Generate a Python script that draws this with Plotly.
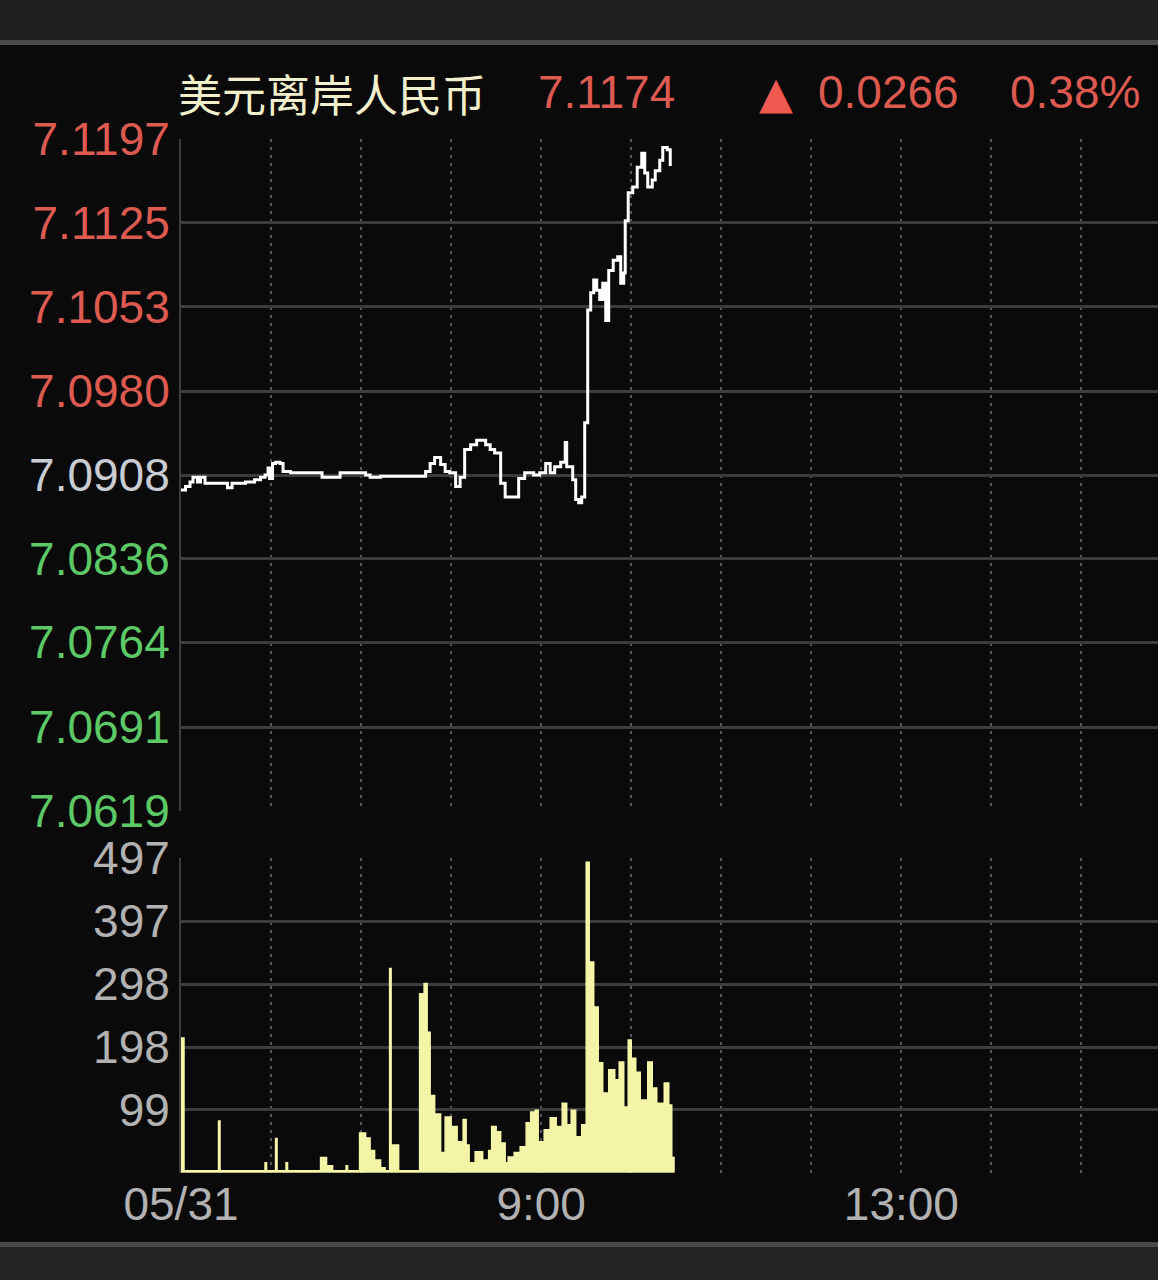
import plotly.graph_objects as go

# ---------------- data ----------------
DAY = "2023-05-31 "
price_times = ["05:00","05:03","05:06","05:08","05:11","05:13","05:16","05:29","05:31","05:34",
               "05:43","05:49","05:53","05:56","05:58","05:59","06:01","06:03","06:06","06:08",
               "06:13","06:33","06:34","06:43","06:46","06:53","06:58","07:03","07:06","07:13",
               "07:39","07:43","07:46","07:49","07:53","07:56","07:59","08:03","08:06","08:09",
               "08:13","08:17","08:23","08:26","08:29","08:33","08:36","08:41","08:45","08:49",
               "08:55","08:59","09:03","09:06","09:09","09:13","09:16","09:17","09:21","09:23",
               "09:25","09:27","09:29","09:31","09:33","09:35","09:37","09:39","09:41","09:43",
               "09:45","09:48","09:51","09:53","09:55","09:56","09:58","10:01","10:04","10:07",
               "10:09","10:11","10:14","10:16","10:19","10:21","10:24","10:26"]
price_values = [7.0895,7.0898,7.0902,7.0906,7.0902,7.0906,7.0901,7.0901,7.0897,7.0901,
                7.0902,7.0904,7.0906,7.0908,7.0914,7.0905,7.0918,7.0919,7.0918,7.0911,
                7.0910,7.0910,7.0906,7.0906,7.0910,7.0910,7.0910,7.0908,7.0906,7.0907,
                7.0907,7.0911,7.0918,7.0923,7.0917,7.0911,7.0910,7.0898,7.0906,7.0930,
                7.0934,7.0938,7.0934,7.0930,7.0927,7.0901,7.0889,7.0889,7.0905,7.0910,
                7.0908,7.0910,7.0918,7.0910,7.0915,7.0919,7.0936,7.0915,7.0904,7.0887,
                7.0884,7.0889,7.0953,7.1050,7.1065,7.1076,7.1067,7.1059,7.1073,7.1041,
                7.1084,7.1093,7.1096,7.1073,7.1082,7.1127,7.1151,7.1156,7.1173,7.1185,
                7.1168,7.1156,7.1162,7.1170,7.1179,7.1190,7.1188,7.1174]

volume_times = ["05:00","05:02","05:25","05:26","05:56","05:57","06:03","06:04","06:10","06:11",
                "06:33","06:37","06:41","06:50","06:51","06:59","07:03","07:06","07:09","07:13",
                "07:16","07:19","07:20","07:21","07:25","07:39","07:42","07:44","07:46","07:49",
                "07:53","07:56","08:00","08:04","08:08","08:10","08:12","08:16","08:21","08:25",
                "08:27","08:30","08:33","08:36","08:38","08:42","08:46","08:50","08:53","08:56",
                "08:58","09:02","09:06","09:10","09:14","09:17","09:20","09:23","09:27","09:30",
                "09:32","09:35","09:38","09:41","09:45","09:49","09:52","09:55","09:58","10:00",
                "10:03","10:06","10:11","10:14","10:17","10:22","10:25","10:27","10:29"]
volume_values = [213,3,82,3,16,3,54,3,16,3,
                 24,11,3,11,3,63,55,35,20,8,
                 3,323,3,44,3,283,299,222,122,93,
                 32,88,73,49,84,44,16,33,20,35,
                 73,65,47,16,25,32,41,79,96,99,
                 49,68,87,73,110,76,99,57,76,491,
                 333,262,174,126,163,147,175,104,210,181,
                 159,115,175,134,110,142,107,24,24]

title_name = "美元离岸人民币"
last_price = "7.1174"
change_abs = "0.0266"
change_pct = "0.38%"

price_tick_vals = [7.1197, 7.1125, 7.1053, 7.0980, 7.0908, 7.0836, 7.0764, 7.0691, 7.0619]
price_tick_text = ["7.1197", "7.1125", "7.1053", "7.0980", "7.0908", "7.0836", "7.0764", "7.0691", "7.0619"]
prev_close = 7.0908

volume_tick_vals = [0, 99.4, 198.8, 298.2, 397.6, 497]
volume_tick_text = ["", "99", "198", "298", "397", "497"]

hour_ticks = ["05:00","06:00","07:00","08:00","09:00","10:00","11:00","12:00","13:00","14:00","15:00"]
hour_labels = ["05/31","","","","9:00","","","","13:00","",""]
x_start, x_end = "05:00", "15:51"

# ---------------- style ----------------
W, H = 1158, 1280
BG = "#0a0a0a"
GRID = "#3c3c3c"
VGRID = "#575757"
RED = "#dc5a50"
GREEN = "#5cc866"
MID = "#c9ccd2"
GRAY = "#b2b2b2"
FONT = "Liberation Sans, Arial, sans-serif"

def py(pix):
    return 1 - pix / H

def px(pix):
    return pix / W

def colored(label, val):
    if abs(val - prev_close) < 1e-6:
        c = MID
    elif val > prev_close:
        c = RED
    else:
        c = GREEN
    return f'<span style="color:{c}">{label}</span>'

fig = go.Figure()

fig.add_trace(go.Scatter(
    x=[DAY + t for t in price_times], y=price_values,
    mode="lines", line=dict(color="#ffffff", width=3, shape="hv"),
    xaxis="x", yaxis="y", hoverinfo="skip", showlegend=False))

fig.add_trace(go.Scatter(
    x=[DAY + t for t in volume_times], y=volume_values,
    mode="lines", line=dict(color="#f6f6aa", width=1.5, shape="hv"),
    fill="tozeroy", fillcolor="#f4f4a6",
    xaxis="x2", yaxis="y2", hoverinfo="skip", showlegend=False))

xdom = [px(181), 1.0]
common_x = dict(
    type="date", range=[DAY + x_start, DAY + x_end], domain=xdom,
    tickmode="array", tickvals=[DAY + t for t in hour_ticks],
    showgrid=True, gridcolor=VGRID, gridwidth=2, griddash="3px,5px",
    zeroline=False, showline=False, ticks="", automargin=False,
)

fig.update_layout(
    width=W, height=H,
    margin=dict(l=0, r=0, t=0, b=0, pad=0, autoexpand=False),
    paper_bgcolor=BG, plot_bgcolor=BG,
    font=dict(family=FONT, color=GRAY, size=46),
    xaxis=dict(**common_x, anchor="y", showticklabels=False, matches="x2"),
    yaxis=dict(
        domain=[py(811), py(139)], range=[7.06187, 7.11973],
        tickmode="array", tickvals=price_tick_vals,
        ticktext=[colored(l, v) for l, v in zip(price_tick_text, price_tick_vals)],
        showgrid=True, gridcolor=GRID, gridwidth=2.5,
        zeroline=False, showline=True, linecolor=GRID, linewidth=2,
        ticks="", ticklabelstandoff=0, automargin=False,
        tickfont=dict(family=FONT, size=46, color=RED),
    ),
    xaxis2=dict(**common_x, anchor="y2", ticktext=hour_labels,
                tickfont=dict(family=FONT, size=46, color=GRAY), ticklabelstandoff=0),
    yaxis2=dict(
        domain=[py(1173), py(858)], range=[-0.4, 497.6],
        tickmode="array", tickvals=volume_tick_vals, ticktext=volume_tick_text,
        showgrid=True, gridcolor=GRID, gridwidth=2.5,
        zeroline=False, showline=True, linecolor=GRID, linewidth=2,
        ticks="", ticklabelstandoff=0, automargin=False,
        tickfont=dict(family=FONT, size=46, color=GRAY),
    ),
    shapes=[
        dict(type="rect", xref="paper", yref="paper", x0=0, x1=1, y0=py(41), y1=1,
             fillcolor="#1f1f1f", line_width=0, layer="below"),
        dict(type="rect", xref="paper", yref="paper", x0=0, x1=1, y0=py(45), y1=py(40),
             fillcolor="#4a4a4a", line_width=0, layer="below"),
        dict(type="rect", xref="paper", yref="paper", x0=0, x1=1, y0=0, y1=py(1243),
             fillcolor="#232323", line_width=0, layer="below"),
        dict(type="rect", xref="paper", yref="paper", x0=0, x1=1, y0=py(1247), y1=py(1242),
             fillcolor="#4a4a4a", line_width=0, layer="below"),
    ],
    annotations=[
        dict(text=title_name, xref="paper", yref="paper", x=px(176), y=py(93),
             xanchor="left", yanchor="middle", showarrow=False,
             font=dict(family="Noto Sans CJK SC", size=44, color="#f2efcc")),
        dict(text=last_price, xref="paper", yref="paper", x=px(536), y=py(92),
             xanchor="left", yanchor="middle", showarrow=False,
             font=dict(family=FONT, size=46, color=RED)),
        dict(text="▲", xref="paper", yref="paper", x=px(757), y=py(92),
             xanchor="left", yanchor="middle", showarrow=False,
             font=dict(family="DejaVu Sans", size=44, color="#f05a50")),
        dict(text=change_abs, xref="paper", yref="paper", x=px(816), y=py(92),
             xanchor="left", yanchor="middle", showarrow=False,
             font=dict(family=FONT, size=46, color=RED)),
        dict(text=change_pct, xref="paper", yref="paper", x=px(1008), y=py(92),
             xanchor="left", yanchor="middle", showarrow=False,
             font=dict(family=FONT, size=46, color=RED)),
    ],
)

fig.write_html("out.html", config={"displayModeBar": False},
               post_script="document.body.style.margin='0';")
